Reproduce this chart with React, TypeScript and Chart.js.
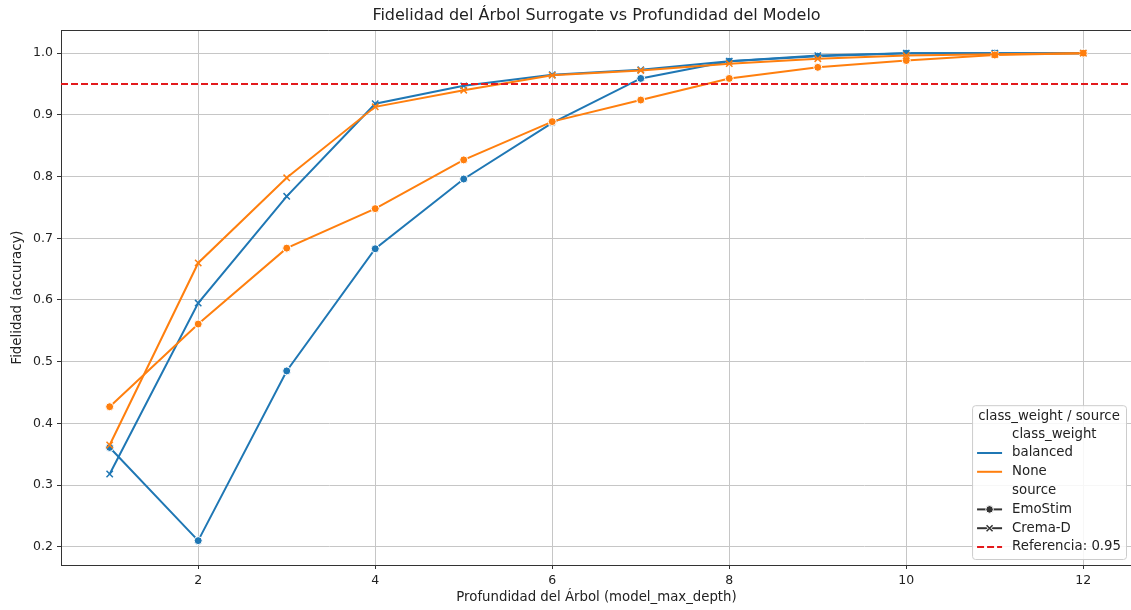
import { useEffect, useRef } from 'react';
import { Chart, registerables } from 'chart.js';

Chart.register(...registerables);

// Tree depth (x) and surrogate fidelity per class_weight / source
const depths = [1, 2, 3, 4, 5, 6, 7, 8, 9, 10, 11, 12];
const balancedEmoStim = [0.361, 0.21, 0.485, 0.683, 0.796, 0.887, 0.959, 0.987, 0.995, 1.0, 1.0, 1.0];
const balancedCremaD = [0.318, 0.595, 0.768, 0.918, 0.947, 0.965, 0.973, 0.987, 0.996, 1.0, 1.0, 1.0];
const noneEmoStim = [0.427, 0.561, 0.684, 0.748, 0.827, 0.889, 0.924, 0.959, 0.977, 0.988, 0.997, 1.0];
const noneCremaD = [0.365, 0.66, 0.798, 0.913, 0.94, 0.964, 0.972, 0.983, 0.991, 0.996, 0.998, 1.0];
const referenceLevel = 0.95;

const xTicks = [2, 4, 6, 8, 10, 12];
const yTicks = [0.2, 0.3, 0.4, 0.5, 0.6, 0.7, 0.8, 0.9, 1.0];

const BLUE = '#1f77b4';
const ORANGE = '#ff7f0e';
const RED = '#e31a1c';
const FONT = '"DejaVu Sans", sans-serif';

const toPoints = (ys: number[]) => depths.map((d, i) => ({ x: d, y: ys[i] }));

const series = (label: string, ys: number[], color: string, marker: 'circle' | 'crossRot') => ({
  label,
  data: toPoints(ys),
  borderColor: color,
  backgroundColor: color,
  borderWidth: 2,
  pointStyle: marker,
  pointRadius: marker === 'circle' ? 4 : 4.5,
  pointBorderWidth: marker === 'circle' ? 1 : 1.5,
  pointBorderColor: marker === 'circle' ? '#ffffff' : color,
  pointBackgroundColor: color,
  tension: 0,
  fill: false,
});

const decorPlugin = {
  id: 'decor',
  afterDatasetsDraw(chart: any) {
    const { ctx, chartArea } = chart;
    const y = chart.scales.y.getPixelForValue(referenceLevel);
    ctx.save();
    ctx.beginPath();
    ctx.rect(chartArea.left, chartArea.top, chartArea.right - chartArea.left, chartArea.bottom - chartArea.top);
    ctx.clip();
    ctx.strokeStyle = RED;
    ctx.lineWidth = 2;
    ctx.setLineDash([7, 3]);
    ctx.beginPath();
    ctx.moveTo(chartArea.left, y);
    ctx.lineTo(chartArea.right, y);
    ctx.stroke();
    ctx.restore();
  },
  afterDraw(chart: any) {
    const { ctx, chartArea } = chart;
    ctx.save();

    // top spine
    ctx.strokeStyle = '#333333';
    ctx.lineWidth = 1;
    ctx.beginPath();
    ctx.moveTo(chartArea.left, chartArea.top + 0.5);
    ctx.lineTo(chartArea.right, chartArea.top + 0.5);
    ctx.stroke();

    // title and axis titles
    const cx = (chartArea.left + chartArea.right) / 2;
    const cy = (chartArea.top + chartArea.bottom) / 2;
    ctx.fillStyle = '#222222';
    ctx.textAlign = 'center';
    ctx.textBaseline = 'middle';
    ctx.font = `16px ${FONT}`;
    ctx.fillText('Fidelidad del Árbol Surrogate vs Profundidad del Modelo', cx, 16);
    ctx.font = `13.3px ${FONT}`;
    ctx.fillText('Profundidad del Árbol (model_max_depth)', cx, 598);
    ctx.save();
    ctx.translate(18, cy);
    ctx.rotate(-Math.PI / 2);
    ctx.fillText('Fidelidad (accuracy)', 0, 0);
    ctx.restore();

    // legend
    ctx.font = `13.3px ${FONT}`;
    const title = 'class_weight / source';
    const rows: { text: string; kind: string; color?: string }[] = [
      { text: 'class_weight', kind: 'none' },
      { text: 'balanced', kind: 'line', color: BLUE },
      { text: 'None', kind: 'line', color: ORANGE },
      { text: 'source', kind: 'none' },
      { text: 'EmoStim', kind: 'dot', color: '#333333' },
      { text: 'Crema-D', kind: 'cross', color: '#333333' },
      { text: 'Referencia: 0.95', kind: 'dash', color: RED },
    ];
    const rowH = 18.8;
    const maxLabel = Math.max(...rows.map((r) => ctx.measureText(r.text).width));
    const titleW = ctx.measureText(title).width;
    const boxW = Math.max(40 + maxLabel + 5, titleW + 10);
    const boxH = 29 + (rows.length - 1) * rowH + 12;
    const x0 = chartArea.right - 6 - boxW;
    const y0 = chartArea.bottom - 6 - boxH;

    ctx.fillStyle = 'rgba(255,255,255,0.85)';
    ctx.strokeStyle = '#cccccc';
    ctx.lineWidth = 1;
    ctx.beginPath();
    (ctx as any).roundRect(x0 + 0.5, y0 + 0.5, boxW, boxH, 3);
    ctx.fill();
    ctx.stroke();

    ctx.fillStyle = '#222222';
    ctx.textAlign = 'center';
    ctx.fillText(title, x0 + boxW / 2, y0 + 11);

    ctx.textAlign = 'left';
    rows.forEach((r, i) => {
      const ry = y0 + 29 + i * rowH;
      const hx0 = x0 + 5;
      const hx1 = x0 + 30;
      ctx.save();
      if (r.kind !== 'none') {
        ctx.strokeStyle = r.color!;
        ctx.lineWidth = 2;
        if (r.kind === 'dash') ctx.setLineDash([7, 3]);
        ctx.beginPath();
        ctx.moveTo(hx0, ry);
        ctx.lineTo(hx1, ry);
        ctx.stroke();
        ctx.setLineDash([]);
        const mx = (hx0 + hx1) / 2;
        if (r.kind === 'dot') {
          ctx.fillStyle = r.color!;
          ctx.strokeStyle = '#ffffff';
          ctx.lineWidth = 1;
          ctx.beginPath();
          ctx.arc(mx, ry, 3.8, 0, Math.PI * 2);
          ctx.fill();
          ctx.stroke();
        } else if (r.kind === 'cross') {
          ctx.strokeStyle = '#ffffff';
          ctx.lineWidth = 3;
          ctx.beginPath();
          ctx.moveTo(mx - 3, ry - 3);
          ctx.lineTo(mx + 3, ry + 3);
          ctx.moveTo(mx - 3, ry + 3);
          ctx.lineTo(mx + 3, ry - 3);
          ctx.stroke();
          ctx.strokeStyle = r.color!;
          ctx.lineWidth = 1.5;
          ctx.stroke();
        }
      }
      ctx.restore();
      ctx.fillStyle = '#222222';
      ctx.fillText(r.text, x0 + 40, ry);
    });

    ctx.restore();
  },
};

export default function App() {
  const canvasRef = useRef<HTMLCanvasElement | null>(null);

  useEffect(() => {
    const canvas = canvasRef.current;
    if (!canvas) return;
    const chart = new Chart(canvas, {
      type: 'line',
      data: {
        datasets: [
          series('None / Crema-D', noneCremaD, ORANGE, 'crossRot'),
          series('None / EmoStim', noneEmoStim, ORANGE, 'circle'),
          series('balanced / Crema-D', balancedCremaD, BLUE, 'crossRot'),
          series('balanced / EmoStim', balancedEmoStim, BLUE, 'circle'),
        ] as any,
      },
      options: {
        responsive: false,
        animation: false,
        devicePixelRatio: 1,
        events: [],
        layout: { padding: { left: 0, top: 30, right: 8, bottom: 0 } },
        plugins: {
          legend: { display: false },
          title: { display: false },
          tooltip: { enabled: false },
        },
        scales: {
          x: {
            type: 'linear',
            min: 0.45,
            max: 12.55,
            afterBuildTicks: (scale: any) => {
              scale.ticks = xTicks.map((v) => ({ value: v }));
            },
            afterFit: (scale: any) => {
              scale.height = 45;
            },
            grid: {
              color: '#c6c6c6',
              lineWidth: 1,
              tickColor: '#333333',
              tickLength: 4,
            },
            border: { display: true, color: '#333333', width: 1 },
            ticks: {
              color: '#222222',
              font: { family: FONT, size: 12.5 },
              padding: 4,
              maxRotation: 0,
              callback: (v: any) => String(v),
            },
          },
          y: {
            type: 'linear',
            min: 0.1705,
            max: 1.0375,
            afterBuildTicks: (scale: any) => {
              scale.ticks = yTicks.map((v) => ({ value: v }));
            },
            afterFit: (scale: any) => {
              scale.width = 61;
            },
            grid: {
              color: '#c6c6c6',
              lineWidth: 1,
              tickColor: '#333333',
              tickLength: 4,
            },
            border: { display: true, color: '#333333', width: 1 },
            ticks: {
              color: '#222222',
              font: { family: FONT, size: 12.5 },
              padding: 4,
              callback: (v: any) => Number(v).toFixed(1),
            },
          },
        },
      },
      plugins: [decorPlugin],
    });
    return () => chart.destroy();
  }, []);

  return (
    <div
      style={{
        position: 'fixed',
        left: 0,
        top: 0,
        width: 1131,
        height: 610,
        overflow: 'hidden',
        background: '#ffffff',
      }}
    >
      <canvas ref={canvasRef} width={1140} height={610} style={{ display: 'block' }} />
    </div>
  );
}
